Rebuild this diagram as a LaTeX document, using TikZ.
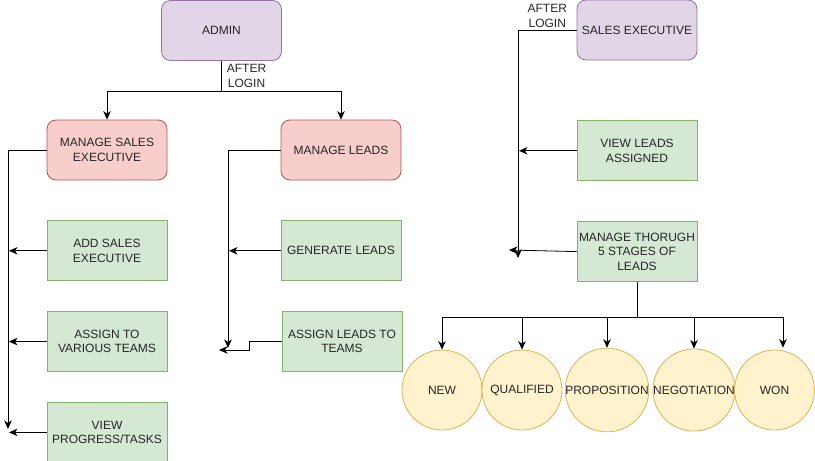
\documentclass[tikz,border=0pt]{standalone}
\usepackage{fontspec}
\setmainfont{Liberation Sans}
\usepackage{tikz}
\usetikzlibrary{shapes,arrows.meta,positioning,calc}

\definecolor{purplefill}{HTML}{E1D5E7}
\definecolor{purpledraw}{HTML}{9673A6}
\definecolor{redfill}{HTML}{F8CECC}
\definecolor{reddraw}{HTML}{B85450}
\definecolor{greenfill}{HTML}{D5E8D4}
\definecolor{greendraw}{HTML}{82B366}
\definecolor{yellowfill}{HTML}{FFF2CC}
\definecolor{yellowdraw}{HTML}{D6B656}

\begin{document}
\begin{tikzpicture}[
        x=1pt, y=1pt,
        >={Stealth[length=8.5pt,width=7.5pt,inset=2.5pt]},
        every node/.style={align=center, font=\fontsize{12}{14.5}\selectfont, text=black!85},
        role/.style={rectangle, draw=purpledraw, fill=purplefill, line width=0.8pt, minimum width=120pt, minimum height=60pt, rounded corners=9pt, inner sep=1pt},
        manage/.style={rectangle, draw=reddraw, fill=redfill, line width=0.8pt, minimum width=120pt, minimum height=60pt, rounded corners=9pt, inner sep=1pt},
        task/.style={rectangle, draw=greendraw, fill=greenfill, line width=0.8pt, minimum width=120pt, minimum height=60pt, inner sep=1pt},
        stage/.style={circle, draw=yellowdraw, fill=yellowfill, line width=0.8pt, minimum size=80pt, inner sep=0pt},
        link/.style={draw=black, line width=0.8pt}
    ]
        \useasboundingbox (0,0) rectangle (815,-461);

        % Admin side
        \node[role] (admin) at (221.5,-30.5) {ADMIN};
        \node[manage] (mse) at (107,-150) {MANAGE SALES\\EXECUTIVE};
        \node[manage] (ml) at (341,-150) {MANAGE LEADS};

        \node[task, below=40pt of mse] (add) {ADD SALES\\EXECUTIVE};
        \node[task, below=30pt of add] (assign) {ASSIGN TO\\VARIOUS TEAMS};
        \node[task, below=30pt of assign] (view) {VIEW\\PROGRESS/TASKS};

        \node[task, below=40pt of ml] (gen) {GENERATE LEADS};
        \node[task, below=30pt of gen, xshift=1pt] (asl) {ASSIGN LEADS TO\\TEAMS};

        % Sales executive side
        \node[role] (se) at (637,-30) {SALES EXECUTIVE};
        \node[task, below=60pt of se] (vla) {VIEW LEADS\\ASSIGNED};
        \node[task, below=40pt of vla] (stages) {MANAGE THORUGH\\5 STAGES OF\\LEADS};

        % Stages
        \node[stage] (new) at (442,-390) {NEW};
        \node[stage] (qual) at (522,-390) {QUALIFIED};
        \node[stage] (prop) at (607,-390) {PROPOSITION};
        \node[stage] (neg) at (694,-390) {NEGOTIATION};
        \node[stage] (won) at (774.5,-390) {WON};

        % Free ends
        \coordinate (lend) at (8,-429);
        \coordinate (mend) at (228,-348);
        \coordinate (aslend) at (219,-350);
        \coordinate (rend) at (518,-258);
        \coordinate (stend) at (509,-250);

        % Connections
        \draw[link] (admin.south) -- ++(0,-30) coordinate (split1)
            node[midway, right, inner sep=5pt] {AFTER\\LOGIN};
        \draw[link, ->] (split1) -| (mse.north);
        \draw[link, ->] (split1) -| (ml.north);

        \draw[link, ->] (mse.west) -| (lend);
        \draw[link, ->] (add.west) -- ([xshift=1pt]add.west -| lend);
        \draw[link, ->] (assign.west) -- ([xshift=1pt]assign.west -| lend);
        \draw[link, ->] (view.west) -- ([xshift=1pt]view.west -| lend);

        \draw[link, ->] (ml.west) -| (mend);
        \draw[link, ->] (gen.west) -- ([xshift=1pt]gen.west -| mend);
        \draw[link, ->] (asl.west) -- ++(-32,0) |- (aslend);

        \draw[link, ->] (se.west) -| (rend)
            node[pos=0.25, above, inner sep=2pt] {AFTER\\LOGIN};
        \draw[link, ->] (vla.west) -- ([xshift=1pt]vla.west -| rend);
        \draw[link, ->] (stages.west) -- (stend);

        \draw[link] (stages.south) -- ++(0,-35) coordinate (split2);
        \draw[link, ->] (split2) -| (new.north);
        \draw[link, ->] (split2) -| (qual.north);
        \draw[link, ->] (split2) -| (prop.north);
        \draw[link, ->] (split2) -| (neg.north);
        \draw[link, ->] (split2) -| ([xshift=8.5pt, yshift=2pt]won.north);

    \end{tikzpicture}
\end{document}
